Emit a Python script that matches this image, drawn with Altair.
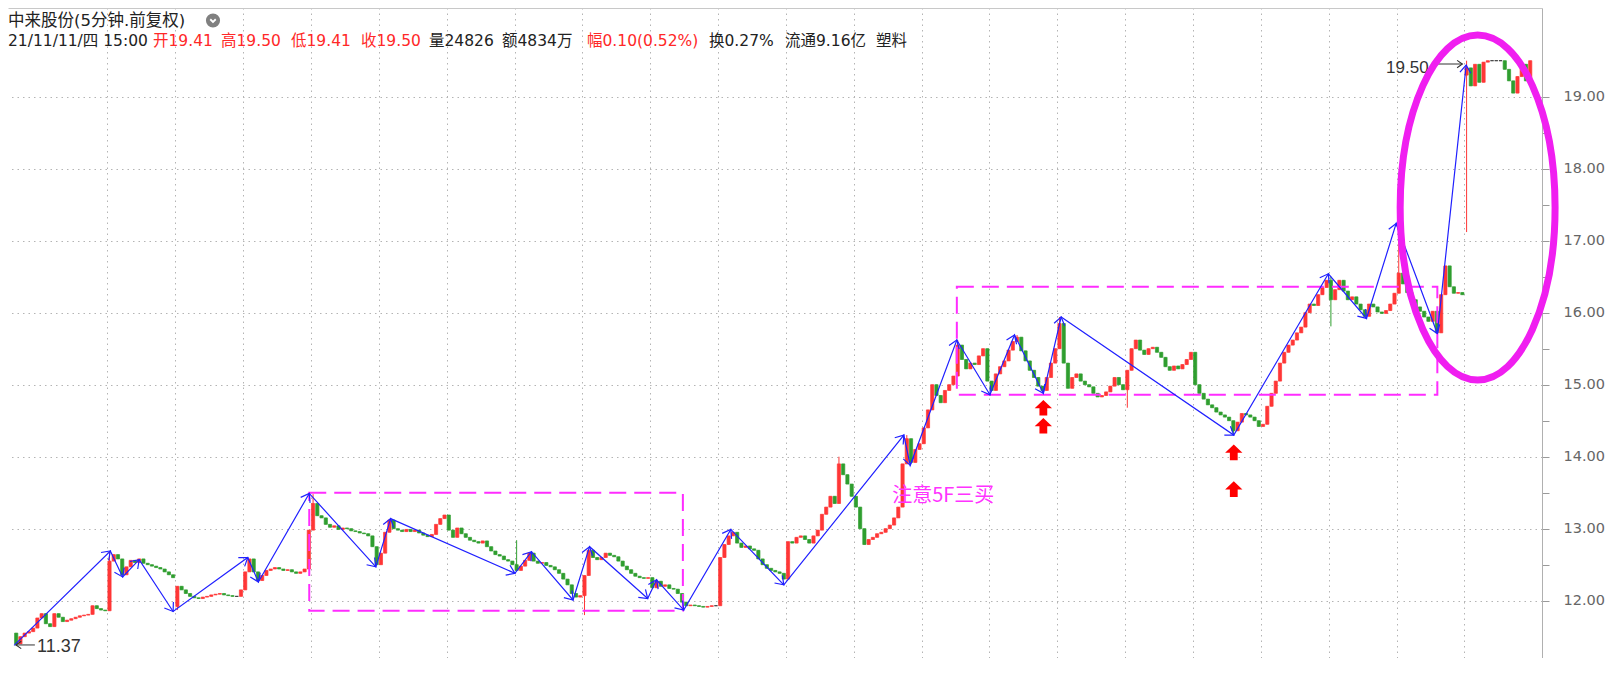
import math
import altair as alt
import pandas as pd

# ---------------- data ----------------
# 15-minute slots: 16 per trading day, slot 0 = first slot of the first full day
first_open = 11.55
closes_pre = [11.40, 11.50, 11.55, 11.57, 11.62, 11.76, 11.82, 11.68, 11.64, 11.82, 11.77,
              11.71, 11.73, 11.75, 11.77, 11.79, 11.80, 11.81, 11.93, 11.89, 11.87, 11.86]
day_closes = [
    [12.55, 12.64, 12.58, 12.36, 12.47, 12.56, 12.53, 12.58, 12.52, 12.50, 12.48, 12.46, 12.44, 12.40, 12.36, 12.32],
    [12.20, 12.15, 12.10, 12.06, 12.04, 12.03, 12.05, 12.06, 12.08, 12.09, 12.10, 12.08, 12.07, 12.06, 12.06, 12.15],
    [12.40, 12.58, 12.40, 12.28, 12.35, 12.42, 12.44, 12.46, 12.44, 12.42, 12.43, 12.40, 12.38, 12.40, 12.44, 12.98],
    [13.35, 13.18, 13.15, 13.06, 13.02, 13.04, 12.99, 13.01, 13.00, 12.97, 12.96, 12.94, 12.93, 12.90, 12.75, 12.50],
    [12.66, 12.95, 13.12, 13.00, 12.98, 12.96, 12.99, 12.96, 12.98, 12.94, 12.91, 12.89, 12.92, 13.06, 13.14, 13.19],
    [12.98, 12.88, 13.01, 12.93, 12.88, 12.84, 12.82, 12.80, 12.83, 12.75, 12.69, 12.64, 12.62, 12.57, 12.55, 12.50],
    [12.42, 12.48, 12.56, 12.66, 12.55, 12.52, 12.53, 12.49, 12.47, 12.43, 12.38, 12.30, 12.22, 12.10, 12.05, 12.07],
    [12.35, 12.70, 12.60, 12.57, 12.60, 12.66, 12.63, 12.61, 12.55, 12.48, 12.43, 12.38, 12.34, 12.32, 12.31, 12.32],
    [12.18, 12.27, 12.20, 12.22, 12.17, 12.16, 12.10, 11.98, 11.93, 11.94, 11.93, 11.92, 11.91, 11.92, 11.93, 11.93],
    [12.60, 12.78, 12.90, 12.95, 12.80, 12.74, 12.76, 12.72, 12.70, 12.58, 12.50, 12.45, 12.42, 12.40, 12.38, 12.30],
    [12.82, 12.80, 12.88, 12.90, 12.85, 12.80, 12.90, 12.98, 13.20, 13.30, 13.45, 13.35, 13.90, 13.75, 13.62, 13.45],
    [13.30, 13.00, 12.78, 12.85, 12.88, 12.93, 12.95, 13.00, 13.05, 13.15, 13.30, 13.90, 14.25, 13.92, 14.10, 14.18],
    [14.40, 14.65, 15.00, 14.85, 14.75, 14.92, 15.00, 15.12, 15.55, 15.35, 15.22, 15.30, 15.28, 15.40, 15.50, 15.05],
    [14.92, 15.15, 15.25, 15.33, 15.48, 15.60, 15.66, 15.47, 15.33, 15.20, 15.10, 14.98, 14.92, 15.10, 15.30, 15.50],
    [15.85, 15.30, 14.95, 15.10, 15.15, 15.05, 15.00, 14.97, 14.88, 14.83, 14.85, 14.90, 14.98, 15.10, 15.00, 14.93],
    [15.20, 15.50, 15.62, 15.48, 15.42, 15.50, 15.52, 15.45, 15.38, 15.25, 15.20, 15.26, 15.22, 15.28, 15.35, 15.45],
    [15.00, 14.88, 14.80, 14.72, 14.68, 14.62, 14.58, 14.55, 14.50, 14.36, 14.48, 14.60, 14.58, 14.55, 14.50, 14.42],
    [14.45, 14.70, 14.88, 15.05, 15.30, 15.45, 15.55, 15.62, 15.72, 15.80, 16.00, 16.12, 16.10, 16.25, 16.35, 16.45],
    [16.18, 16.32, 16.45, 16.30, 16.18, 16.22, 16.12, 16.04, 15.95, 16.12, 16.08, 16.01, 15.99, 16.03, 16.12, 16.27],
    [16.55, 16.40, 16.28, 16.18, 16.08, 16.02, 15.94, 15.88, 16.02, 15.72, 16.25, 16.65, 16.36, 16.27, 16.28, 16.25],
    [19.40, 19.15, 19.45, 19.20, 19.48, 19.50, 19.50, 19.50, 19.50, 19.38, 19.22, 19.05, 19.28, 19.45, 19.22, 19.50],
]
open_override = {16: 11.92, 320: 19.30}
high_override = {0: 12.68, 48: 13.48, 96: 12.84, 129: 12.30, 172: 14.00, 188: 14.30, 200: 15.62,
                 214: 15.69, 224: 15.94, 288: 16.50, 304: 17.22, 320: 19.50}
low_override = {-22: 11.37, 16: 11.87, 112: 11.80, 240: 14.68, 265: 14.30, 288: 15.81, 320: 17.12}

# blue zig-zag (stroke) vertices
zz_t = [-22.0, 0.7, 3.6, 7.5, 15.5, 33.1, 35.6, 47.6, 63.3, 66.8, 96.1, 100.0, 109.8, 113.7, 127.4,
        129.5, 135.9, 147.0, 159.5, 187.8, 189.3, 200.3, 208.1, 213.9, 220.7, 224.9, 265.6, 287.9,
        296.9, 303.9, 313.6, 320.4]
zz_p = [11.38, 12.69, 12.33, 12.57, 11.85, 12.60, 12.26, 13.49, 12.47, 13.14, 12.38, 12.68, 12.01,
        12.75, 12.03, 12.29, 11.87, 12.99, 12.22, 14.30, 13.88, 15.62, 14.86, 15.69, 14.88, 15.94,
        14.30, 16.54, 15.92, 17.24, 15.71, 19.44]

# pivot boxes (magenta dashed)
box_t1 = [47.6, 200.3]
box_t2 = [135.7, 313.6]
box_lo = [11.86, 14.86]
box_hi = [13.50, 16.36]

# red buy arrows
buy_t = [220.7, 220.7, 265.6, 265.6]
buy_p = [14.68, 14.43, 14.06, 13.55]

note_text = ["注意5F三买"]
note_t = [197.1]
note_p = [13.45]

ellipse_t = [323.1]
ellipse_p = [17.46]

low_label, low_label_t, low_label_p = "11.37", -16.6, 11.356
high_label, high_label_t, high_label_p = "19.50", 311.55, 19.40
pointer_from_t = [-17.1, 312.25]
pointer_to_t = [-21.55, 319.5]
pointer_p = [11.385, 19.454]

day_starts = [0, 16, 32, 48, 64, 80, 96, 112, 128, 144, 160, 176, 192, 208, 224, 240, 256, 272,
              288, 304, 320]
price_ticks = [12.0, 12.5, 13.0, 13.5, 14.0, 14.5, 15.0, 15.5, 16.0, 16.5, 17.0, 17.5, 18.0,
               18.5, 19.0]

title_line1 = "中来股份(5分钟.前复权)"
header_parts = ["21/11/11/四 15:00", "开19.41", "高19.50", "低19.41", "收19.50", "量24826",
                "额4834万", "幅0.10(0.52%)", "换0.27%", "流通9.16亿", "塑料"]
header_red = [False, True, True, True, True, False, False, True, False, False, False]

# ---------------- layout / style ----------------
W, H = 1534, 650
XMIN, XMAX = -22.255, 337.10
YMIN, YMAX = 11.204, 20.232
PPX = W / (XMAX - XMIN)
PPY = H / (YMAX - YMIN)
header_x = [0, 145, 213, 283, 353, 421, 494, 579, 701, 777, 868]
RED, GREEN, DOJI = "#ff3636", "#2f9e2f", "#222222"
BLUE = "#2020ff"
MAGENTA = "#ff2cff"
CHEVRON = "M-1,-0.7 L0,0 L-1,0.7"
BLOCK_ARROW = "M0,-0.9 L1,0.05 L0.45,0.05 L0.45,0.9 L-0.45,0.9 L-0.45,0.05 L-1,0.05 Z"
ELLIPSE = ("M0.449,0 C0.449,0.5523 0.248,1 0,1 C-0.248,1 -0.449,0.5523 -0.449,0 "
           "C-0.449,-0.5523 -0.248,-1 0,-1 C0.248,-1 0.449,-0.5523 0.449,0 Z")
FONT = "DejaVu Sans, Noto Sans CJK SC"


def heading(t1, p1, t2, p2):
    return math.degrees(math.atan2(-(p2 - p1) * PPY, (t2 - t1) * PPX)) % 360


# ---------------- tables ----------------
closes = closes_pre + [c for d in day_closes for c in d]
rows = []
prev = first_open
for k, c in enumerate(closes):
    slot = -len(closes_pre) + k
    o = open_override.get(slot, prev)
    hi = high_override.get(slot, max(o, c))
    lo = low_override.get(slot, min(o, c))
    d = "up" if c > o else ("down" if c < o else "flat")
    rows.append(dict(t=slot + 0.5, open=o, close=c, high=hi, low=lo, dir=d))
    prev = c
candles = pd.DataFrame(rows)

zz = pd.DataFrame({"t": zz_t, "p": zz_p, "i": list(range(len(zz_t)))})
heads = pd.DataFrame({
    "t": zz_t[1:], "p": zz_p[1:],
    "ang": [heading(zz_t[i - 1], zz_p[i - 1], zz_t[i], zz_p[i]) for i in range(1, len(zz_t))],
})
boxes = pd.DataFrame({"t1": box_t1, "t2": box_t2, "lo": box_lo, "hi": box_hi})
buys = pd.DataFrame({"t": buy_t, "p": buy_p})
note = pd.DataFrame({"t": note_t, "p": note_p, "s": note_text})
ell = pd.DataFrame({"t": ellipse_t, "p": ellipse_p})
ptr_lines = pd.DataFrame({
    "g": ["a", "a", "b", "b"],
    "t": [pointer_from_t[0], pointer_to_t[0], pointer_from_t[1], pointer_to_t[1]],
    "p": [pointer_p[0], pointer_p[0], pointer_p[1], pointer_p[1]],
})
ptr_heads = pd.DataFrame({
    "t": pointer_to_t, "p": pointer_p,
    "ang": [heading(pointer_from_t[i], pointer_p[i], pointer_to_t[i], pointer_p[i]) for i in range(2)],
})
lab_low = pd.DataFrame({"t": [low_label_t], "p": [low_label_p], "s": [low_label]})
lab_high = pd.DataFrame({"t": [high_label_t], "p": [high_label_p], "s": [high_label]})

# ---------------- scales / axes ----------------
xs = alt.Scale(domain=[XMIN, XMAX], nice=False, zero=False)
ys = alt.Scale(domain=[YMIN, YMAX], nice=False, zero=False)
x_axis = alt.Axis(orient="top", values=day_starts, labels=False, ticks=False, domain=True,
                  domainColor="#c8c8c8", grid=True, gridColor="#b4b4b4", gridDash=[1.5, 4],
                  title=None)
y_axis = alt.Axis(orient="right", values=price_ticks,
                  labelExpr="datum.value % 1 === 0 ? format(datum.value, '.2f') : ''",
                  labelOverlap=False, tickSize=7, tickColor="#9a9a9a", domainColor="#b0b0b0",
                  labelColor="#666666", labelFont="DejaVu Sans", labelFontSize=14.5,
                  labelPadding=14, grid=True, gridColor="#b4b4b4", gridDash=[1.5, 4],
                  gridOpacity={"condition": {"test": "datum.value % 1 !== 0", "value": 0}, "value": 1},
                  title=None)


def X(f):
    return alt.X(f, type="quantitative", scale=xs, axis=x_axis)


def Y(f):
    return alt.Y(f, type="quantitative", scale=ys, axis=y_axis)


cs = alt.Scale(domain=["up", "down", "flat"], range=[RED, GREEN, DOJI])

wicks = alt.Chart(candles).mark_rule(strokeWidth=1).encode(
    x=X("t"), y=Y("low"), y2="high:Q", color=alt.Color("dir:N", scale=cs, legend=None))
bodies = alt.Chart(candles).mark_bar(size=3.2, strokeWidth=0.7).encode(
    x=X("t"), y=Y("open"), y2="close:Q",
    color=alt.Color("dir:N", scale=cs, legend=None),
    stroke=alt.Stroke("dir:N", scale=cs, legend=None))

boxes_l = alt.Chart(boxes).mark_rect(filled=False, color=MAGENTA, strokeWidth=2,
                                     strokeDash=[17, 8]).encode(
    x=X("t1"), x2="t2:Q", y=Y("lo"), y2="hi:Q")

zz_line = alt.Chart(zz).mark_line(color=BLUE, strokeWidth=1.2).encode(
    x=X("t"), y=Y("p"), order="i:Q")
zz_heads = alt.Chart(heads).mark_point(shape=CHEVRON, filled=False, color=BLUE, strokeWidth=1.2,
                                        size=240, opacity=1).encode(
    x=X("t"), y=Y("p"), angle=alt.Angle("ang:Q", scale=None))

buy_l = alt.Chart(buys).mark_point(shape=BLOCK_ARROW, filled=True, color="#ff0000", size=300,
                                   opacity=1, strokeWidth=0).encode(x=X("t"), y=Y("p"))

note_l = alt.Chart(note).mark_text(color="#ff33ff", font="Noto Sans CJK SC", fontSize=20,
                                   align="center", baseline="middle").encode(
    x=X("t"), y=Y("p"), text="s:N")

ell_l = alt.Chart(ell).mark_point(shape=ELLIPSE, filled=False, color="#f01ef0", strokeWidth=7,
                                  size=345 ** 2, opacity=1, clip=False).encode(x=X("t"), y=Y("p"))

ptr_l = alt.Chart(ptr_lines).mark_line(color="#333333", strokeWidth=1).encode(
    x=X("t"), y=Y("p"), detail="g:N")
ptr_h = alt.Chart(ptr_heads).mark_point(shape=CHEVRON, filled=False, color="#333333",
                                        strokeWidth=1.1, size=110, opacity=1).encode(
    x=X("t"), y=Y("p"), angle=alt.Angle("ang:Q", scale=None))
lab_low_l = alt.Chart(lab_low).mark_text(font="Liberation Sans", fontSize=18, color="#333333",
                                         align="left", baseline="middle").encode(
    x=X("t"), y=Y("p"), text="s:N")
lab_high_l = alt.Chart(lab_high).mark_text(font="Liberation Sans", fontSize=17, color="#333333",
                                           align="right", baseline="middle").encode(
    x=X("t"), y=Y("p"), text="s:N")

# ---------------- header ----------------
header_layers = [
    alt.Chart(pd.DataFrame({"s": [title_line1]})).mark_text(
        font=FONT, fontSize=16.5, color="#222222", align="left", baseline="middle").encode(
        x=alt.value(0), y=alt.value(12.5), text="s:N"),
    alt.Chart(pd.DataFrame({"s": ["icon"]})).mark_point(
        shape="circle", filled=True, color="#808080", size=200, opacity=1).encode(
        x=alt.value(205), y=alt.value(12.5)),
    alt.Chart(pd.DataFrame({"s": ["icon"]})).mark_point(
        shape="M-0.55,-0.25 L0,0.3 L0.55,-0.25", filled=False, color="#ffffff", strokeWidth=1.8,
        size=100, opacity=1).encode(x=alt.value(205), y=alt.value(12.5)),
]
for txt, red, hx in zip(header_parts, header_red, header_x):
    header_layers.append(
        alt.Chart(pd.DataFrame({"s": [txt]})).mark_text(
            font=FONT, fontSize=15.5, color="#ff2828" if red else "#222222",
            align="left", baseline="middle").encode(
            x=alt.value(hx), y=alt.value(33), text="s:N"))

chart = alt.layer(
    wicks, bodies, boxes_l, zz_line, zz_heads, buy_l, note_l, ptr_l, ptr_h, lab_low_l,
    lab_high_l, ell_l, *header_layers
).properties(
    width=W, height=H, padding=0, background="#ffffff"
).configure_view(stroke=None)

chart.save("out.html", embed_options={"renderer": "svg", "actions": False})
